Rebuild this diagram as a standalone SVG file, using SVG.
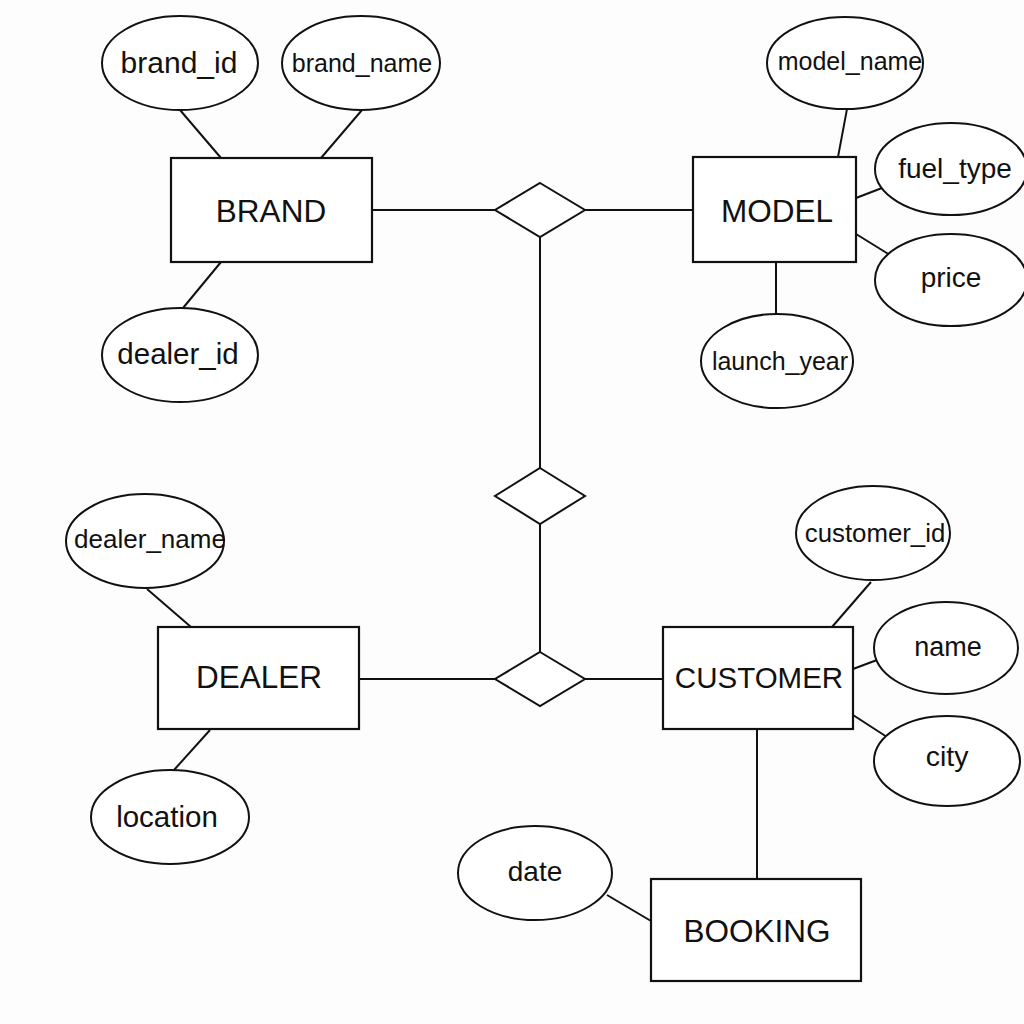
<svg xmlns="http://www.w3.org/2000/svg" width="1024" height="1024" viewBox="0 0 1024 1024">
<style>
.bg{fill:#fdfdfd}
.ent{fill:#fff;stroke:#111;stroke-width:2.2}
.att{fill:#fff;stroke:#111;stroke-width:2}
.rel{fill:#fff;stroke:#111;stroke-width:2}
.ln{stroke:#111;stroke-width:2;fill:none}
text{font-family:"Liberation Sans",Arial,sans-serif;fill:#111;text-anchor:middle}
.et{font-size:31.5px}
</style>
<rect class="bg" x="0" y="0" width="1024" height="1024"/>
<g id="connectors">
<line class="ln" x1="180" y1="110" x2="221" y2="158"/>
<line class="ln" x1="362" y1="110" x2="321" y2="158"/>
<line class="ln" x1="221" y1="262" x2="183" y2="308"/>
<line class="ln" x1="372" y1="210" x2="495" y2="210"/>
<line class="ln" x1="585" y1="210" x2="693" y2="210"/>
<line class="ln" x1="847" y1="109" x2="838" y2="157"/>
<line class="ln" x1="856" y1="198" x2="882" y2="188"/>
<line class="ln" x1="856" y1="234" x2="890" y2="255"/>
<line class="ln" x1="776" y1="262" x2="776" y2="314"/>
<line class="ln" x1="540" y1="237" x2="540" y2="468"/>
<line class="ln" x1="540" y1="524" x2="540" y2="652"/>
<line class="ln" x1="359" y1="679" x2="495" y2="679"/>
<line class="ln" x1="585" y1="679" x2="663" y2="679"/>
<line class="ln" x1="147" y1="589" x2="191" y2="627"/>
<line class="ln" x1="210" y1="730" x2="174" y2="770"/>
<line class="ln" x1="871" y1="582" x2="832" y2="627"/>
<line class="ln" x1="853" y1="669" x2="877" y2="660"/>
<line class="ln" x1="853" y1="715" x2="887" y2="737"/>
<line class="ln" x1="757" y1="729" x2="757" y2="879"/>
<line class="ln" x1="607" y1="895" x2="651" y2="921"/>
</g>
<g id="brand"><rect class="ent" x="171" y="158" width="201" height="104"/><text class="et" x="271" y="222">BRAND</text></g>
<g id="model"><rect class="ent" x="693" y="157" width="163" height="105"/><text class="et" x="777" y="222">MODEL</text></g>
<g id="dealer"><rect class="ent" x="158" y="627" width="201" height="102"/><text class="et" x="259" y="688">DEALER</text></g>
<g id="customer"><rect class="ent" x="663" y="627" width="190" height="102"/><text x="759" y="688" font-size="29.5">CUSTOMER</text></g>
<g id="booking"><rect class="ent" x="651" y="879" width="210" height="102"/><text class="et" x="757" y="942">BOOKING</text></g>
<g id="rel-top"><polygon class="rel" points="540,183 585,210 540,237 495,210"/></g>
<g id="rel-mid"><polygon class="rel" points="540,468 585,496 540,524 495,496"/></g>
<g id="rel-bottom"><polygon class="rel" points="540,652 585,679 540,706 495,679"/></g>
<g id="attr-brand_id"><ellipse class="att" cx="180" cy="63" rx="78" ry="47"/><text x="179" y="73" font-size="30">brand_id</text></g>
<g id="attr-brand_name"><ellipse class="att" cx="361" cy="63" rx="79" ry="47"/><text x="362" y="72" font-size="25">brand_name</text></g>
<g id="attr-dealer_id"><ellipse class="att" cx="180" cy="355" rx="78" ry="47"/><text x="178" y="364" font-size="29.5">dealer_id</text></g>
<g id="attr-model_name"><ellipse class="att" cx="845" cy="63" rx="78" ry="46"/><text x="850" y="70" font-size="25">model_name</text></g>
<g id="attr-fuel_type"><ellipse class="att" cx="951" cy="169" rx="76" ry="46"/><text x="955" y="178" font-size="28">fuel_type</text></g>
<g id="attr-price"><ellipse class="att" cx="951" cy="280" rx="76" ry="46"/><text x="951" y="287" font-size="28">price</text></g>
<g id="attr-launch_year"><ellipse class="att" cx="777" cy="361" rx="76" ry="47"/><text x="780" y="370" font-size="25">launch_year</text></g>
<g id="attr-dealer_name"><ellipse class="att" cx="145" cy="541" rx="79" ry="47"/><text x="150" y="548" font-size="26">dealer_name</text></g>
<g id="attr-location"><ellipse class="att" cx="170" cy="817" rx="79" ry="47"/><text x="167" y="827" font-size="29.5">location</text></g>
<g id="attr-customer_id"><ellipse class="att" cx="873" cy="533" rx="77" ry="47"/><text x="875" y="542" font-size="25.8">customer_id</text></g>
<g id="attr-name"><ellipse class="att" cx="946" cy="648" rx="72" ry="46"/><text x="948" y="656" font-size="27">name</text></g>
<g id="attr-city"><ellipse class="att" cx="947" cy="761" rx="73" ry="45"/><text x="947" y="766" font-size="28.5">city</text></g>
<g id="attr-date"><ellipse class="att" cx="535" cy="873" rx="77" ry="47"/><text x="535" y="881" font-size="28">date</text></g>
</svg>
